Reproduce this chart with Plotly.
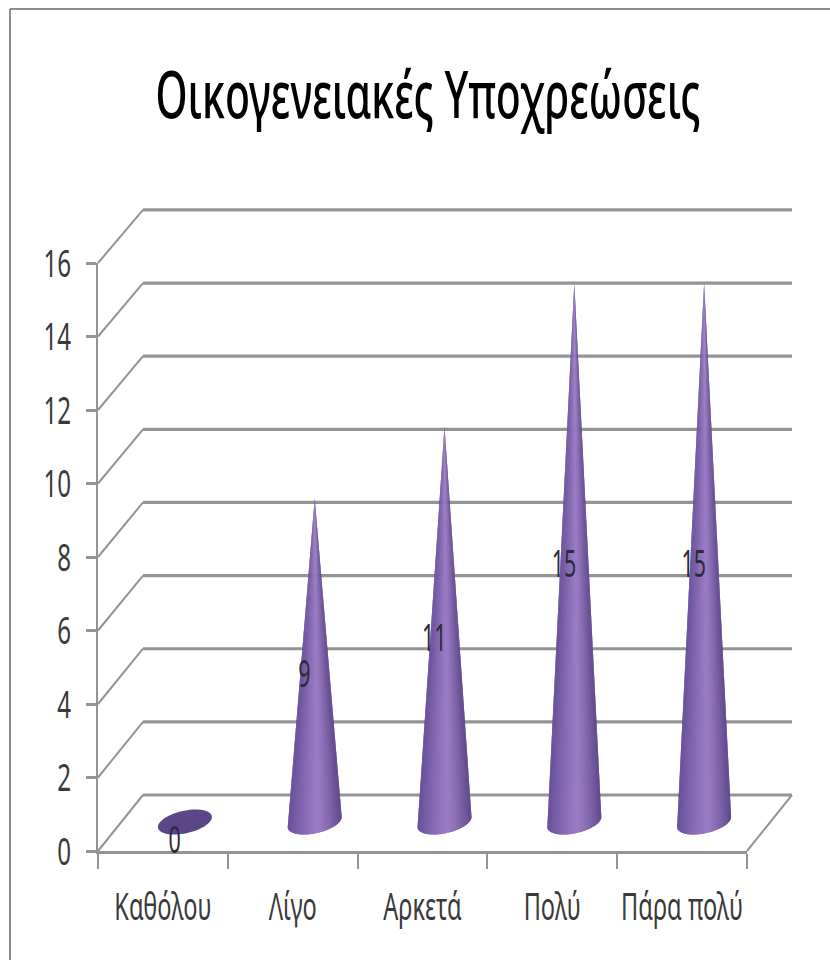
import numpy as np
import plotly.graph_objects as go

# ---- data ----
categories = ["Καθόλου", "Λίγο", "Αρκετά", "Πολύ", "Πάρα πολύ"]
values = [0, 9, 11, 15, 15]
y_ticks = [0, 2, 4, 6, 8, 10, 12, 14, 16]
title_text = "Οικογενειακές Υποχρεώσεις"

# ---- page geometry (pixels) ----
W, H = 830, 963
X0, X1 = 98, 747      # front x axis
Y0, Y16 = 851, 263    # front y axis
PX = (X1 - X0) / len(categories)
PY = (Y0 - Y16) / 16
DX = 45 / PX          # depth offset
DY = 56 / PY
GRID = "#949494"
FONT = "Noto Sans, Liberation Sans, sans-serif"
n = len(categories)

fig = go.Figure()

# visible axes carry no marks of their own
fig.add_trace(go.Scatter(x=[i + 0.5 for i in range(n)], y=values, mode="none",
                         xaxis="x", yaxis="y", hoverinfo="skip", showlegend=False))


def line(xs, ys, width=3, color=GRID):
    fig.add_trace(go.Scatter(x=xs, y=ys, mode="lines", xaxis="x2", yaxis="y2", hoverinfo="skip",
                             line=dict(color=color, width=width), showlegend=False))


# back wall lines and left wall diagonals
for t in y_ticks:
    yb = t * 0.995 + DY
    line([DX, n + DX], [yb, yb], width=3.2)
    line([0, DX], [t, yb], width=2)
# floor right edge
line([n, n + DX], [0, DY], width=2)


def mix(c1, c2, t):
    return "rgb(%d,%d,%d)" % tuple(round(a + (b - a) * t) for a, b in zip(c1, c2))


DARK_L = (102, 78, 150)
LIGHT = (154, 124, 196)
DARK_R = (96, 72, 140)
a = 27 / PX
b = 11.5 / PY
tilt = 5 / PY
HEIGHT_SCALE = 0.977
BASE_Y = 29 / PY
STRIPS = 40

for i, v in enumerate(values):
    cx = i + 0.5 + 22 / PX
    if v == 0:
        th = np.linspace(0, 2 * np.pi, 60)
        fig.add_trace(go.Scatter(x=cx + a * np.cos(th), y=BASE_Y + b * np.sin(th) + tilt * np.cos(th),
                                 mode="none", fill="toself", fillcolor="#5b4688",
                                 xaxis="x2", yaxis="y2", hoverinfo="skip", showlegend=False))
        continue
    tip_y = BASE_Y + v * HEIGHT_SCALE
    edges = np.linspace(np.pi, 2 * np.pi, STRIPS + 1)
    for k in range(STRIPS):
        # each strip overlaps the next one, which paints over it, so no seams show
        end = edges[min(k + 2, STRIPS)]
        th = np.linspace(edges[k], end, 5)
        xb = cx + a * np.cos(th)
        yb = BASE_Y + b * np.sin(th) + tilt * np.cos(th)
        pos = (np.cos(edges[k]) + np.cos(edges[k + 1])) / 2 * 0.5 + 0.5
        if pos < 0.55:
            col = mix(DARK_L, LIGHT, (pos / 0.55) ** 0.8)
        else:
            col = mix(LIGHT, DARK_R, ((pos - 0.55) / 0.45) ** 1.3)
        fig.add_trace(go.Scatter(x=[cx, *xb, cx], y=[tip_y, *yb, tip_y], mode="none", fill="toself",
                                 fillcolor=col, xaxis="x2", yaxis="y2",
                                 hoverinfo="skip", showlegend=False))

# value labels
fig.add_trace(go.Scatter(x=[i + 0.59 for i in range(n)], y=[v / 2 + 0.22 for v in values],
                         mode="text", text=[str(v) for v in values], xaxis="x2", yaxis="y2",
                         textfont=dict(family=FONT, size=39, color="#2e2a3a"),
                         cliponaxis=False, hoverinfo="skip", showlegend=False))

fig.update_layout(
    template=None,
    width=W, height=H, margin=dict(l=0, r=0, t=0, b=0, autoexpand=False),
    paper_bgcolor="white", plot_bgcolor="rgba(0,0,0,0)", showlegend=False,
    title=dict(text=title_text, x=428 / W, xanchor="center", y=1 - 95 / H, yanchor="middle",
               automargin=False, font=dict(family=FONT, size=66, color="black", weight=500)),
    xaxis=dict(domain=[X0 / W, X1 / W], range=[0, n], showgrid=False, zeroline=False, automargin=False,
               showline=True, linecolor=GRID, linewidth=3, tickangle=0,
               tickvals=[i + 0.5 for i in range(n)], ticktext=categories,
               ticks="outside", ticklen=20, tickcolor="rgba(0,0,0,0)", tickwidth=1,
               tickfont=dict(family=FONT, size=38, color="#3a3a3a"),
               minor=dict(tickvals=list(range(n + 1)), ticks="outside", ticklen=15,
                          tickcolor=GRID, tickwidth=2, showgrid=False)),
    yaxis=dict(domain=[1 - Y0 / H, 1 - Y16 / H], range=[0, 16], showgrid=False, zeroline=False, automargin=False,
               showline=True, linecolor=GRID, linewidth=2, ticklabelstandoff=7,
               tickvals=y_ticks, ticks="outside", ticklen=10, tickcolor=GRID, tickwidth=3,
               tickfont=dict(family=FONT, size=39, color="#3a3a3a")),
    # full-page axes, same scale as the visible ones, so the 3D walls can leave the front frame
    xaxis2=dict(domain=[0, 1], range=[-X0 / PX, (W - X0) / PX], visible=False, automargin=False),
    yaxis2=dict(domain=[0, 1], range=[(Y0 - H) / PY, Y0 / PY], visible=False, automargin=False),
    shapes=[
        dict(type="line", xref="paper", yref="paper", x0=10 / W, x1=1, y0=1 - 9 / H, y1=1 - 9 / H,
             line=dict(color="#8c8c8c", width=2)),
        dict(type="line", xref="paper", yref="paper", x0=10 / W, x1=10 / W, y0=1 - 9 / H, y1=1 - 960 / H,
             line=dict(color="#8c8c8c", width=2)),
    ],
)

# The reference text is a tall, condensed face: squeeze the real text horizontally.
squeeze = """
document.body.style.margin='0';
function sq(sel, f, abs){
  document.querySelectorAll(sel).forEach(function(t){
    var w = abs ? abs : t.getComputedTextLength() * f;
    t.setAttribute('textLength', w);
    t.setAttribute('lengthAdjust', 'spacingAndGlyphs');
  });
}
sq('.gtitle', 1, 545);
sq('.xtick text', 0.62);
sq('.ytick text', 0.62);
sq('.textpoint text', 0.55);
"""
fig.write_html("out.html", post_script=squeeze, config=dict(displayModeBar=False))
